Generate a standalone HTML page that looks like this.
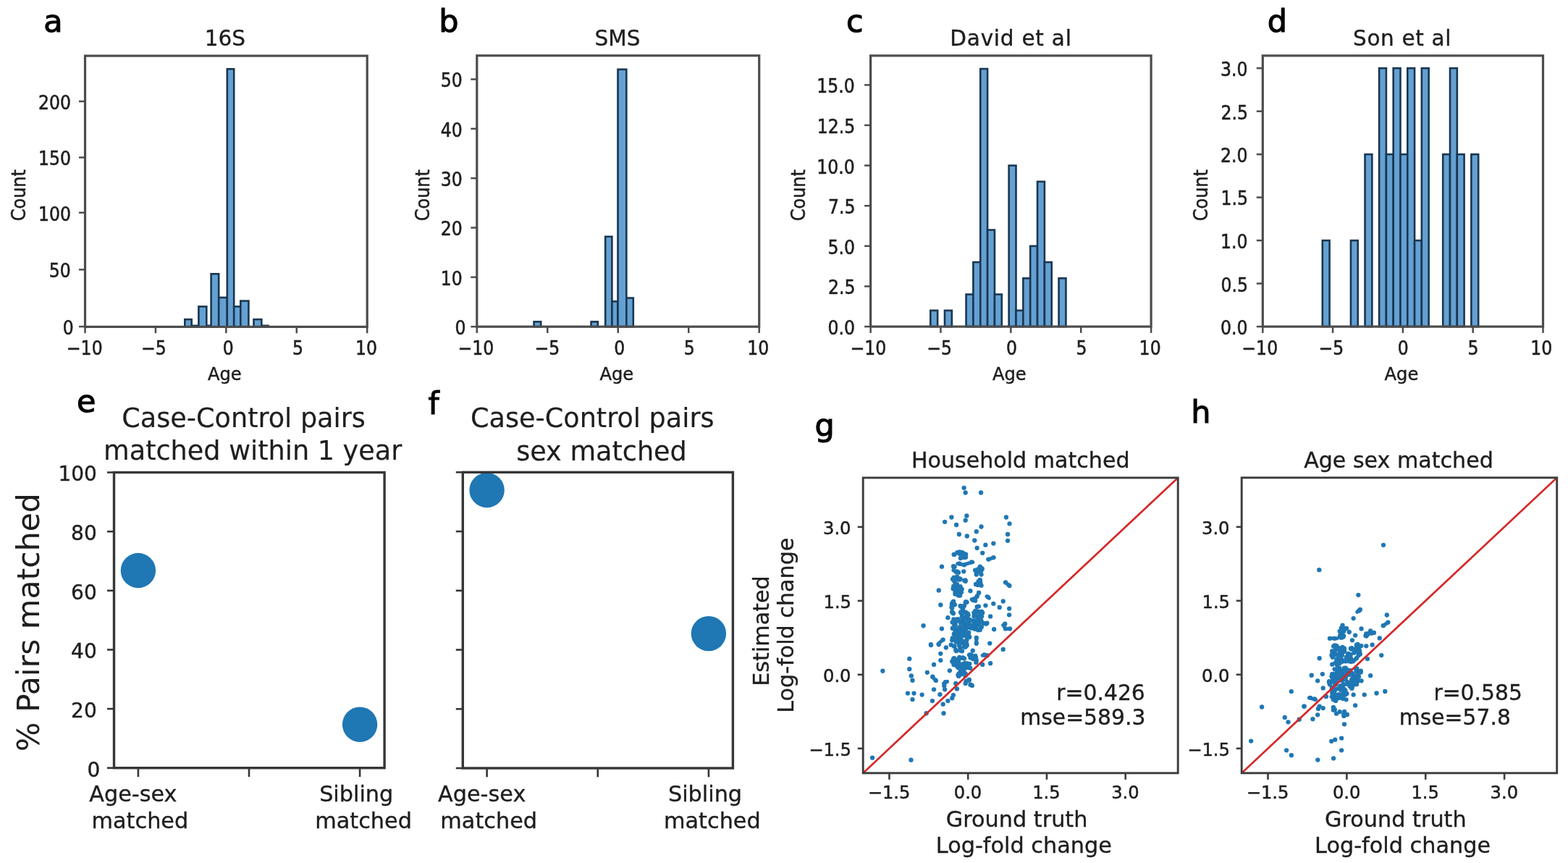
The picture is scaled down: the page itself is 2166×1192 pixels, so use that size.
<!DOCTYPE html>
<html><head><meta charset="utf-8"><title>Figure</title>
<style>html,body{margin:0;padding:0;background:#fff;width:2166px;height:1192px;overflow:hidden}svg{display:block}</style>
</head><body>
<svg width="2166" height="1192" viewBox="0 0 2166 1192" font-family="'DejaVu Sans','Liberation Sans',sans-serif"><rect width="2166" height="1192" fill="#fff"/><rect x="255.3" y="441.14" width="9.4" height="10.26" fill="#64a1d2" stroke="#1a3651" stroke-width="2.6"/>
<rect x="264.7" y="449.84" width="9.7" height="1.56" fill="#64a1d2" stroke="#1a3651" stroke-width="2.6"/>
<rect x="274.4" y="423.41" width="10.9" height="27.99" fill="#64a1d2" stroke="#1a3651" stroke-width="2.6"/>
<rect x="285.3" y="449.84" width="6.3" height="1.56" fill="#64a1d2" stroke="#1a3651" stroke-width="2.6"/>
<rect x="291.6" y="378.31" width="10.6" height="73.08" fill="#64a1d2" stroke="#1a3651" stroke-width="2.6"/>
<rect x="302.2" y="410.97" width="11.6" height="40.43" fill="#64a1d2" stroke="#1a3651" stroke-width="2.6"/>
<rect x="313.8" y="95.31" width="9.4" height="356.09" fill="#64a1d2" stroke="#1a3651" stroke-width="2.6"/>
<rect x="323.2" y="423.41" width="9.1" height="27.99" fill="#64a1d2" stroke="#1a3651" stroke-width="2.6"/>
<rect x="332.3" y="415.63" width="11.1" height="35.76" fill="#64a1d2" stroke="#1a3651" stroke-width="2.6"/>
<rect x="350.5" y="441.14" width="10.8" height="10.26" fill="#64a1d2" stroke="#1a3651" stroke-width="2.6"/>
<rect x="361.3" y="449.84" width="9.2" height="1.56" fill="#64a1d2" stroke="#1a3651" stroke-width="2.6"/>
<rect x="117.5" y="77.1" width="389.7" height="374.3" fill="none" stroke="#4c4c4c" stroke-width="3.2" stroke-linejoin="miter" stroke-linecap="square"/>
<line x1="117.5" y1="451.4" x2="117.5" y2="460.2" stroke="#4c4c4c" stroke-width="2.5"/>
<text transform="translate(91.85,489.8) scale(1,1.12)" font-size="23.6" stroke-width="0.51" fill="#1e1e1e" stroke="#1e1e1e">−10</text>
<line x1="214.93" y1="451.4" x2="214.93" y2="460.2" stroke="#4c4c4c" stroke-width="2.5"/>
<text transform="translate(195.02,489.8) scale(1,1.12)" font-size="23.6" stroke-width="0.51" fill="#1e1e1e" stroke="#1e1e1e">−5</text>
<line x1="312.35" y1="451.4" x2="312.35" y2="460.2" stroke="#4c4c4c" stroke-width="2.5"/>
<text transform="translate(307.67,489.8) scale(1,1.12)" font-size="23.6" stroke-width="0.51" fill="#1e1e1e" stroke="#1e1e1e">0</text>
<line x1="409.77" y1="451.4" x2="409.77" y2="460.2" stroke="#4c4c4c" stroke-width="2.5"/>
<text transform="translate(404.07,489.8) scale(1,1.12)" font-size="23.6" stroke-width="0.51" fill="#1e1e1e" stroke="#1e1e1e">5</text>
<line x1="507.2" y1="451.4" x2="507.2" y2="460.2" stroke="#4c4c4c" stroke-width="2.5"/>
<text transform="translate(490.92,489.8) scale(1,1.12)" font-size="23.6" stroke-width="0.51" fill="#1e1e1e" stroke="#1e1e1e">10</text>
<line x1="109" y1="451.1" x2="117.5" y2="451.1" stroke="#4c4c4c" stroke-width="2.5"/>
<text transform="translate(86.75,462.01) scale(1,1.1)" font-size="23.6" stroke-width="0.51" fill="#1e1e1e" stroke="#1e1e1e">0</text>
<line x1="109" y1="372.4" x2="117.5" y2="372.4" stroke="#4c4c4c" stroke-width="2.5"/>
<text transform="translate(67.74,383.31) scale(1,1.1)" font-size="23.6" stroke-width="0.51" fill="#1e1e1e" stroke="#1e1e1e">50</text>
<line x1="109" y1="293.7" x2="117.5" y2="293.7" stroke="#4c4c4c" stroke-width="2.5"/>
<text transform="translate(52.88,304.61) scale(1,1.1)" font-size="23.6" stroke-width="0.51" fill="#1e1e1e" stroke="#1e1e1e">100</text>
<line x1="109" y1="217.5" x2="117.5" y2="217.5" stroke="#4c4c4c" stroke-width="2.5"/>
<text transform="translate(52.88,228.41) scale(1,1.1)" font-size="23.6" stroke-width="0.51" fill="#1e1e1e" stroke="#1e1e1e">150</text>
<line x1="109" y1="140" x2="117.5" y2="140" stroke="#4c4c4c" stroke-width="2.5"/>
<text transform="translate(52.88,150.91) scale(1,1.1)" font-size="23.6" stroke-width="0.51" fill="#1e1e1e" stroke="#1e1e1e">200</text>
<text x="286.98" y="524.5" font-size="24.2" stroke-width="0.49" fill="#1e1e1e" stroke="#1e1e1e">Age</text>
<text transform="translate(35.3,305.3) rotate(-90) scale(1,1.07)" font-size="24.0" stroke-width="0.50" fill="#1e1e1e" stroke="#1e1e1e">Count</text>
<text x="282.84" y="62.6" font-size="29.5" stroke-width="0.36" fill="#1e1e1e" stroke="#1e1e1e">16S</text>
<rect x="737.6" y="444.37" width="9.6" height="6.83" fill="#64a1d2" stroke="#1a3651" stroke-width="2.6"/>
<rect x="816.6" y="444.37" width="9.2" height="6.83" fill="#64a1d2" stroke="#1a3651" stroke-width="2.6"/>
<rect x="836.2" y="326.82" width="9.2" height="124.38" fill="#64a1d2" stroke="#1a3651" stroke-width="2.6"/>
<rect x="845.4" y="416.35" width="8.1" height="34.85" fill="#64a1d2" stroke="#1a3651" stroke-width="2.6"/>
<rect x="853.5" y="95.83" width="11.8" height="355.37" fill="#64a1d2" stroke="#1a3651" stroke-width="2.6"/>
<rect x="865.3" y="411.56" width="9.5" height="39.64" fill="#64a1d2" stroke="#1a3651" stroke-width="2.6"/>
<rect x="658.8" y="76.8" width="389.9" height="374.4" fill="none" stroke="#4c4c4c" stroke-width="3.2" stroke-linejoin="miter" stroke-linecap="square"/>
<line x1="658.8" y1="451.2" x2="658.8" y2="460" stroke="#4c4c4c" stroke-width="2.5"/>
<text transform="translate(632.45,489.8) scale(1,1.12)" font-size="23.6" stroke-width="0.51" fill="#1e1e1e" stroke="#1e1e1e">−10</text>
<line x1="756.27" y1="451.2" x2="756.27" y2="460" stroke="#4c4c4c" stroke-width="2.5"/>
<text transform="translate(738.52,489.8) scale(1,1.12)" font-size="23.6" stroke-width="0.51" fill="#1e1e1e" stroke="#1e1e1e">−5</text>
<line x1="853.75" y1="451.2" x2="853.75" y2="460" stroke="#4c4c4c" stroke-width="2.5"/>
<text transform="translate(848.37,489.8) scale(1,1.12)" font-size="23.6" stroke-width="0.51" fill="#1e1e1e" stroke="#1e1e1e">0</text>
<line x1="951.23" y1="451.2" x2="951.23" y2="460" stroke="#4c4c4c" stroke-width="2.5"/>
<text transform="translate(944.77,489.8) scale(1,1.12)" font-size="23.6" stroke-width="0.51" fill="#1e1e1e" stroke="#1e1e1e">5</text>
<line x1="1048.7" y1="451.2" x2="1048.7" y2="460" stroke="#4c4c4c" stroke-width="2.5"/>
<text transform="translate(1032.22,489.8) scale(1,1.12)" font-size="23.6" stroke-width="0.51" fill="#1e1e1e" stroke="#1e1e1e">10</text>
<line x1="650.3" y1="451.2" x2="658.8" y2="451.2" stroke="#4c4c4c" stroke-width="2.5"/>
<text transform="translate(628.55,462.11) scale(1,1.1)" font-size="23.6" stroke-width="0.51" fill="#1e1e1e" stroke="#1e1e1e">0</text>
<line x1="650.3" y1="382.86" x2="658.8" y2="382.86" stroke="#4c4c4c" stroke-width="2.5"/>
<text transform="translate(608.74,393.77) scale(1,1.1)" font-size="23.6" stroke-width="0.51" fill="#1e1e1e" stroke="#1e1e1e">10</text>
<line x1="650.3" y1="314.52" x2="658.8" y2="314.52" stroke="#4c4c4c" stroke-width="2.5"/>
<text transform="translate(608.74,325.43) scale(1,1.1)" font-size="23.6" stroke-width="0.51" fill="#1e1e1e" stroke="#1e1e1e">20</text>
<line x1="650.3" y1="246.18" x2="658.8" y2="246.18" stroke="#4c4c4c" stroke-width="2.5"/>
<text transform="translate(608.74,257.09) scale(1,1.1)" font-size="23.6" stroke-width="0.51" fill="#1e1e1e" stroke="#1e1e1e">30</text>
<line x1="650.3" y1="177.84" x2="658.8" y2="177.84" stroke="#4c4c4c" stroke-width="2.5"/>
<text transform="translate(608.74,188.75) scale(1,1.1)" font-size="23.6" stroke-width="0.51" fill="#1e1e1e" stroke="#1e1e1e">40</text>
<line x1="650.3" y1="109.5" x2="658.8" y2="109.5" stroke="#4c4c4c" stroke-width="2.5"/>
<text transform="translate(608.74,120.41) scale(1,1.1)" font-size="23.6" stroke-width="0.51" fill="#1e1e1e" stroke="#1e1e1e">50</text>
<text x="828.38" y="524.5" font-size="24.2" stroke-width="0.49" fill="#1e1e1e" stroke="#1e1e1e">Age</text>
<text transform="translate(593,305.3) rotate(-90) scale(1,1.07)" font-size="24.0" stroke-width="0.50" fill="#1e1e1e" stroke="#1e1e1e">Count</text>
<text x="821.58" y="62.6" font-size="29.5" stroke-width="0.36" fill="#1e1e1e" stroke="#1e1e1e">SMS</text>
<rect x="1285.3" y="428.85" width="9.85" height="22.25" fill="#64a1d2" stroke="#1a3651" stroke-width="2.6"/>
<rect x="1305" y="428.85" width="9.85" height="22.25" fill="#64a1d2" stroke="#1a3651" stroke-width="2.6"/>
<rect x="1334.55" y="406.6" width="9.85" height="44.5" fill="#64a1d2" stroke="#1a3651" stroke-width="2.6"/>
<rect x="1344.4" y="362.1" width="9.85" height="89" fill="#64a1d2" stroke="#1a3651" stroke-width="2.6"/>
<rect x="1354.25" y="95.1" width="9.85" height="356" fill="#64a1d2" stroke="#1a3651" stroke-width="2.6"/>
<rect x="1364.1" y="317.6" width="9.85" height="133.5" fill="#64a1d2" stroke="#1a3651" stroke-width="2.6"/>
<rect x="1373.95" y="406.6" width="9.85" height="44.5" fill="#64a1d2" stroke="#1a3651" stroke-width="2.6"/>
<rect x="1393.65" y="228.6" width="9.85" height="222.5" fill="#64a1d2" stroke="#1a3651" stroke-width="2.6"/>
<rect x="1403.5" y="428.85" width="9.85" height="22.25" fill="#64a1d2" stroke="#1a3651" stroke-width="2.6"/>
<rect x="1413.35" y="384.35" width="9.85" height="66.75" fill="#64a1d2" stroke="#1a3651" stroke-width="2.6"/>
<rect x="1423.2" y="339.85" width="9.85" height="111.25" fill="#64a1d2" stroke="#1a3651" stroke-width="2.6"/>
<rect x="1433.05" y="250.85" width="9.85" height="200.25" fill="#64a1d2" stroke="#1a3651" stroke-width="2.6"/>
<rect x="1442.9" y="362.1" width="9.85" height="89" fill="#64a1d2" stroke="#1a3651" stroke-width="2.6"/>
<rect x="1462.6" y="384.35" width="9.85" height="66.75" fill="#64a1d2" stroke="#1a3651" stroke-width="2.6"/>
<rect x="1202.6" y="76.9" width="387.5" height="374.2" fill="none" stroke="#4c4c4c" stroke-width="3.2" stroke-linejoin="miter" stroke-linecap="square"/>
<line x1="1202.6" y1="451.1" x2="1202.6" y2="459.9" stroke="#4c4c4c" stroke-width="2.5"/>
<text transform="translate(1174.55,489.8) scale(1,1.12)" font-size="23.6" stroke-width="0.51" fill="#1e1e1e" stroke="#1e1e1e">−10</text>
<line x1="1299.47" y1="451.1" x2="1299.47" y2="459.9" stroke="#4c4c4c" stroke-width="2.5"/>
<text transform="translate(1280.32,489.8) scale(1,1.12)" font-size="23.6" stroke-width="0.51" fill="#1e1e1e" stroke="#1e1e1e">−5</text>
<line x1="1396.35" y1="451.1" x2="1396.35" y2="459.9" stroke="#4c4c4c" stroke-width="2.5"/>
<text transform="translate(1389.97,489.8) scale(1,1.12)" font-size="23.6" stroke-width="0.51" fill="#1e1e1e" stroke="#1e1e1e">0</text>
<line x1="1493.22" y1="451.1" x2="1493.22" y2="459.9" stroke="#4c4c4c" stroke-width="2.5"/>
<text transform="translate(1486.47,489.8) scale(1,1.12)" font-size="23.6" stroke-width="0.51" fill="#1e1e1e" stroke="#1e1e1e">5</text>
<line x1="1590.1" y1="451.1" x2="1590.1" y2="459.9" stroke="#4c4c4c" stroke-width="2.5"/>
<text transform="translate(1573.62,489.8) scale(1,1.12)" font-size="23.6" stroke-width="0.51" fill="#1e1e1e" stroke="#1e1e1e">10</text>
<line x1="1194.1" y1="451.1" x2="1202.6" y2="451.1" stroke="#4c4c4c" stroke-width="2.5"/>
<text transform="translate(1143.43,462.01) scale(1,1.1)" font-size="23.6" stroke-width="0.51" fill="#1e1e1e" stroke="#1e1e1e">0.0</text>
<line x1="1194.1" y1="395.48" x2="1202.6" y2="395.48" stroke="#4c4c4c" stroke-width="2.5"/>
<text transform="translate(1143.9,406.38) scale(1,1.1)" font-size="23.6" stroke-width="0.51" fill="#1e1e1e" stroke="#1e1e1e">2.5</text>
<line x1="1194.1" y1="339.85" x2="1202.6" y2="339.85" stroke="#4c4c4c" stroke-width="2.5"/>
<text transform="translate(1143.43,350.76) scale(1,1.1)" font-size="23.6" stroke-width="0.51" fill="#1e1e1e" stroke="#1e1e1e">5.0</text>
<line x1="1194.1" y1="284.23" x2="1202.6" y2="284.23" stroke="#4c4c4c" stroke-width="2.5"/>
<text transform="translate(1143.9,294.87) scale(1,1.1)" font-size="23.6" stroke-width="0.51" fill="#1e1e1e" stroke="#1e1e1e">7.5</text>
<line x1="1194.1" y1="228.6" x2="1202.6" y2="228.6" stroke="#4c4c4c" stroke-width="2.5"/>
<text transform="translate(1128.32,239.51) scale(1,1.1)" font-size="23.6" stroke-width="0.51" fill="#1e1e1e" stroke="#1e1e1e">10.0</text>
<line x1="1194.1" y1="172.98" x2="1202.6" y2="172.98" stroke="#4c4c4c" stroke-width="2.5"/>
<text transform="translate(1128.8,183.88) scale(1,1.1)" font-size="23.6" stroke-width="0.51" fill="#1e1e1e" stroke="#1e1e1e">12.5</text>
<line x1="1194.1" y1="117.35" x2="1202.6" y2="117.35" stroke="#4c4c4c" stroke-width="2.5"/>
<text transform="translate(1128.32,128.26) scale(1,1.1)" font-size="23.6" stroke-width="0.51" fill="#1e1e1e" stroke="#1e1e1e">15.0</text>
<text x="1370.98" y="524.5" font-size="24.2" stroke-width="0.49" fill="#1e1e1e" stroke="#1e1e1e">Age</text>
<text transform="translate(1112,305.3) rotate(-90) scale(1,1.07)" font-size="24.0" stroke-width="0.50" fill="#1e1e1e" stroke="#1e1e1e">Count</text>
<text x="1312.35" y="62.6" font-size="29.5" stroke-width="0.36" fill="#1e1e1e" stroke="#1e1e1e" textLength="167.53" lengthAdjust="spacing">David et al</text>
<rect x="1826.8" y="332.13" width="9.79" height="118.97" fill="#64a1d2" stroke="#1a3651" stroke-width="2.6"/>
<rect x="1865.96" y="332.13" width="9.79" height="118.97" fill="#64a1d2" stroke="#1a3651" stroke-width="2.6"/>
<rect x="1885.54" y="213.16" width="9.79" height="237.94" fill="#64a1d2" stroke="#1a3651" stroke-width="2.6"/>
<rect x="1905.12" y="94.19" width="9.79" height="356.91" fill="#64a1d2" stroke="#1a3651" stroke-width="2.6"/>
<rect x="1914.91" y="213.16" width="9.79" height="237.94" fill="#64a1d2" stroke="#1a3651" stroke-width="2.6"/>
<rect x="1924.7" y="94.19" width="9.79" height="356.91" fill="#64a1d2" stroke="#1a3651" stroke-width="2.6"/>
<rect x="1934.49" y="213.16" width="9.79" height="237.94" fill="#64a1d2" stroke="#1a3651" stroke-width="2.6"/>
<rect x="1944.28" y="94.19" width="9.79" height="356.91" fill="#64a1d2" stroke="#1a3651" stroke-width="2.6"/>
<rect x="1954.07" y="332.13" width="9.79" height="118.97" fill="#64a1d2" stroke="#1a3651" stroke-width="2.6"/>
<rect x="1963.86" y="94.19" width="9.79" height="356.91" fill="#64a1d2" stroke="#1a3651" stroke-width="2.6"/>
<rect x="1993.23" y="213.16" width="9.79" height="237.94" fill="#64a1d2" stroke="#1a3651" stroke-width="2.6"/>
<rect x="2003.02" y="94.19" width="9.79" height="356.91" fill="#64a1d2" stroke="#1a3651" stroke-width="2.6"/>
<rect x="2012.81" y="213.16" width="9.79" height="237.94" fill="#64a1d2" stroke="#1a3651" stroke-width="2.6"/>
<rect x="2032.39" y="213.16" width="9.79" height="237.94" fill="#64a1d2" stroke="#1a3651" stroke-width="2.6"/>
<rect x="1744.3" y="76.9" width="387.2" height="374.2" fill="none" stroke="#4c4c4c" stroke-width="3.2" stroke-linejoin="miter" stroke-linecap="square"/>
<line x1="1744.3" y1="451.1" x2="1744.3" y2="459.9" stroke="#4c4c4c" stroke-width="2.5"/>
<text transform="translate(1715.35,489.8) scale(1,1.12)" font-size="23.6" stroke-width="0.51" fill="#1e1e1e" stroke="#1e1e1e">−10</text>
<line x1="1841.1" y1="451.1" x2="1841.1" y2="459.9" stroke="#4c4c4c" stroke-width="2.5"/>
<text transform="translate(1821.42,489.8) scale(1,1.12)" font-size="23.6" stroke-width="0.51" fill="#1e1e1e" stroke="#1e1e1e">−5</text>
<line x1="1937.9" y1="451.1" x2="1937.9" y2="459.9" stroke="#4c4c4c" stroke-width="2.5"/>
<text transform="translate(1930.87,489.8) scale(1,1.12)" font-size="23.6" stroke-width="0.51" fill="#1e1e1e" stroke="#1e1e1e">0</text>
<line x1="2034.7" y1="451.1" x2="2034.7" y2="459.9" stroke="#4c4c4c" stroke-width="2.5"/>
<text transform="translate(2027.57,489.8) scale(1,1.12)" font-size="23.6" stroke-width="0.51" fill="#1e1e1e" stroke="#1e1e1e">5</text>
<line x1="2131.5" y1="451.1" x2="2131.5" y2="459.9" stroke="#4c4c4c" stroke-width="2.5"/>
<text transform="translate(2114.32,489.8) scale(1,1.12)" font-size="23.6" stroke-width="0.51" fill="#1e1e1e" stroke="#1e1e1e">10</text>
<line x1="1735.8" y1="451.1" x2="1744.3" y2="451.1" stroke="#4c4c4c" stroke-width="2.5"/>
<text transform="translate(1685.93,462.01) scale(1,1.1)" font-size="23.6" stroke-width="0.51" fill="#1e1e1e" stroke="#1e1e1e">0.0</text>
<line x1="1735.8" y1="391.62" x2="1744.3" y2="391.62" stroke="#4c4c4c" stroke-width="2.5"/>
<text transform="translate(1686.4,402.52) scale(1,1.1)" font-size="23.6" stroke-width="0.51" fill="#1e1e1e" stroke="#1e1e1e">0.5</text>
<line x1="1735.8" y1="332.13" x2="1744.3" y2="332.13" stroke="#4c4c4c" stroke-width="2.5"/>
<text transform="translate(1685.93,343.04) scale(1,1.1)" font-size="23.6" stroke-width="0.51" fill="#1e1e1e" stroke="#1e1e1e">1.0</text>
<line x1="1735.8" y1="272.65" x2="1744.3" y2="272.65" stroke="#4c4c4c" stroke-width="2.5"/>
<text transform="translate(1686.4,283.29) scale(1,1.1)" font-size="23.6" stroke-width="0.51" fill="#1e1e1e" stroke="#1e1e1e">1.5</text>
<line x1="1735.8" y1="213.16" x2="1744.3" y2="213.16" stroke="#4c4c4c" stroke-width="2.5"/>
<text transform="translate(1685.93,224.07) scale(1,1.1)" font-size="23.6" stroke-width="0.51" fill="#1e1e1e" stroke="#1e1e1e">2.0</text>
<line x1="1735.8" y1="153.68" x2="1744.3" y2="153.68" stroke="#4c4c4c" stroke-width="2.5"/>
<text transform="translate(1686.4,164.58) scale(1,1.1)" font-size="23.6" stroke-width="0.51" fill="#1e1e1e" stroke="#1e1e1e">2.5</text>
<line x1="1735.8" y1="94.19" x2="1744.3" y2="94.19" stroke="#4c4c4c" stroke-width="2.5"/>
<text transform="translate(1685.93,105.1) scale(1,1.1)" font-size="23.6" stroke-width="0.51" fill="#1e1e1e" stroke="#1e1e1e">3.0</text>
<text x="1912.53" y="524.5" font-size="24.2" stroke-width="0.49" fill="#1e1e1e" stroke="#1e1e1e">Age</text>
<text transform="translate(1668,305.3) rotate(-90) scale(1,1.07)" font-size="24.0" stroke-width="0.50" fill="#1e1e1e" stroke="#1e1e1e">Count</text>
<text x="1869.03" y="62.6" font-size="29.5" stroke-width="0.36" fill="#1e1e1e" stroke="#1e1e1e" textLength="135.45" lengthAdjust="spacing">Son et al</text>
<clipPath id="clipe"><rect x="157.5" y="652.5" width="373.6" height="408.2"/></clipPath>
<circle cx="190.9" cy="788" r="24.2" fill="#1f77b4" clip-path="url(#clipe)"/>
<circle cx="497.1" cy="1000.7" r="24.2" fill="#1f77b4" clip-path="url(#clipe)"/>
<rect x="157.5" y="652.5" width="373.6" height="408.2" fill="none" stroke="#363636" stroke-width="3.4" stroke-linejoin="miter" stroke-linecap="square"/>
<line x1="148" y1="1060.7" x2="157.5" y2="1060.7" stroke="#363636" stroke-width="2.6"/>
<text x="120.54" y="1072.56" font-size="28.0" stroke-width="0.40" fill="#1e1e1e" stroke="#1e1e1e">0</text>
<line x1="148" y1="979.06" x2="157.5" y2="979.06" stroke="#363636" stroke-width="2.6"/>
<text x="98.12" y="990.92" font-size="28.0" stroke-width="0.40" fill="#1e1e1e" stroke="#1e1e1e">20</text>
<line x1="148" y1="897.42" x2="157.5" y2="897.42" stroke="#363636" stroke-width="2.6"/>
<text x="98.12" y="909.28" font-size="28.0" stroke-width="0.40" fill="#1e1e1e" stroke="#1e1e1e">40</text>
<line x1="148" y1="815.78" x2="157.5" y2="815.78" stroke="#363636" stroke-width="2.6"/>
<text x="98.12" y="827.64" font-size="28.0" stroke-width="0.40" fill="#1e1e1e" stroke="#1e1e1e">60</text>
<line x1="148" y1="734.14" x2="157.5" y2="734.14" stroke="#363636" stroke-width="2.6"/>
<text x="98.12" y="746" font-size="28.0" stroke-width="0.40" fill="#1e1e1e" stroke="#1e1e1e">80</text>
<line x1="148" y1="652.5" x2="157.5" y2="652.5" stroke="#363636" stroke-width="2.6"/>
<text x="80.48" y="664.36" font-size="28.0" stroke-width="0.40" fill="#1e1e1e" stroke="#1e1e1e">100</text>
<line x1="190.9" y1="1060.7" x2="190.9" y2="1073" stroke="#363636" stroke-width="2.6"/>
<line x1="344" y1="1060.7" x2="344" y2="1073" stroke="#363636" stroke-width="2.6"/>
<line x1="497.1" y1="1060.7" x2="497.1" y2="1073" stroke="#363636" stroke-width="2.6"/>
<text x="168.34" y="589.6" font-size="36.6" stroke-width="0.18" fill="#1e1e1e" stroke="#1e1e1e">Case-Control pairs</text>
<text x="143.11" y="635.3" font-size="36.6" stroke-width="0.18" fill="#1e1e1e" stroke="#1e1e1e">matched within 1 year</text>
<text x="123.2" y="1106.6" font-size="30.3" stroke-width="0.34" fill="#1e1e1e" stroke="#1e1e1e">Age-sex</text>
<text x="126.54" y="1143.5" font-size="30.3" stroke-width="0.34" fill="#1e1e1e" stroke="#1e1e1e">matched</text>
<text x="441.15" y="1106.6" font-size="30.3" stroke-width="0.34" fill="#1e1e1e" stroke="#1e1e1e">Sibling</text>
<text x="435.24" y="1143.5" font-size="30.3" stroke-width="0.34" fill="#1e1e1e" stroke="#1e1e1e">matched</text>
<clipPath id="clipf"><rect x="639.3" y="652.3" width="373.1" height="408.7"/></clipPath>
<circle cx="672.6" cy="677" r="24.2" fill="#1f77b4" clip-path="url(#clipf)"/>
<circle cx="978.9" cy="875.1" r="24.2" fill="#1f77b4" clip-path="url(#clipf)"/>
<rect x="639.3" y="652.3" width="373.1" height="408.7" fill="none" stroke="#363636" stroke-width="3.4" stroke-linejoin="miter" stroke-linecap="square"/>
<line x1="629.8" y1="1061" x2="639.3" y2="1061" stroke="#363636" stroke-width="2.6"/>
<line x1="629.8" y1="979.26" x2="639.3" y2="979.26" stroke="#363636" stroke-width="2.6"/>
<line x1="629.8" y1="897.52" x2="639.3" y2="897.52" stroke="#363636" stroke-width="2.6"/>
<line x1="629.8" y1="815.78" x2="639.3" y2="815.78" stroke="#363636" stroke-width="2.6"/>
<line x1="629.8" y1="734.04" x2="639.3" y2="734.04" stroke="#363636" stroke-width="2.6"/>
<line x1="629.8" y1="652.3" x2="639.3" y2="652.3" stroke="#363636" stroke-width="2.6"/>
<line x1="672.6" y1="1061" x2="672.6" y2="1073.3" stroke="#363636" stroke-width="2.6"/>
<line x1="825.75" y1="1061" x2="825.75" y2="1073.3" stroke="#363636" stroke-width="2.6"/>
<line x1="978.9" y1="1061" x2="978.9" y2="1073.3" stroke="#363636" stroke-width="2.6"/>
<text x="650.04" y="589.8" font-size="36.6" stroke-width="0.18" fill="#1e1e1e" stroke="#1e1e1e">Case-Control pairs</text>
<text x="713.2" y="635.5" font-size="36.6" stroke-width="0.18" fill="#1e1e1e" stroke="#1e1e1e">sex matched</text>
<text x="605" y="1106.6" font-size="30.3" stroke-width="0.34" fill="#1e1e1e" stroke="#1e1e1e">Age-sex</text>
<text x="608.34" y="1143.5" font-size="30.3" stroke-width="0.34" fill="#1e1e1e" stroke="#1e1e1e">matched</text>
<text x="922.95" y="1106.6" font-size="30.3" stroke-width="0.34" fill="#1e1e1e" stroke="#1e1e1e">Sibling</text>
<text x="917.04" y="1143.5" font-size="30.3" stroke-width="0.34" fill="#1e1e1e" stroke="#1e1e1e">matched</text>
<text transform="translate(53.6,1038.04) rotate(-90)" font-size="42.6" stroke-width="0.03" fill="#1e1e1e" stroke="#1e1e1e">% Pairs matched</text>
<clipPath id="clipg"><rect x="1192.2" y="659.9" width="435" height="407.9"/></clipPath>
<g fill="#1f77b4"><g clip-path="url(#clipg)"><circle cx="1331.61" cy="673.81" r="3.15"/><circle cx="1333.7" cy="680.52" r="3.15"/><circle cx="1355.1" cy="680.52" r="3.15"/><circle cx="1314.4" cy="714.51" r="3.15"/><circle cx="1305.17" cy="720.8" r="3.15"/><circle cx="1321.12" cy="725" r="3.15"/><circle cx="1335.38" cy="712.41" r="3.15"/><circle cx="1333.7" cy="718.7" r="3.15"/><circle cx="1355.52" cy="727.52" r="3.15"/><circle cx="1348.81" cy="734.23" r="3.15"/><circle cx="1324.89" cy="738" r="3.15"/><circle cx="1335.8" cy="740.52" r="3.15"/><circle cx="1346.29" cy="746.4" r="3.15"/><circle cx="1361.4" cy="752.69" r="3.15"/><circle cx="1372.31" cy="750.59" r="3.15"/><circle cx="1349.65" cy="756.89" r="3.15"/><circle cx="1389.93" cy="714.51" r="3.15"/><circle cx="1394.54" cy="723.32" r="3.15"/><circle cx="1392.02" cy="738" r="3.15"/><circle cx="1392.02" cy="746.82" r="3.15"/><circle cx="1318.6" cy="765.87" r="3.15"/><circle cx="1325.31" cy="764.2" r="3.15"/><circle cx="1330.35" cy="766.71" r="3.15"/><circle cx="1326.99" cy="770.91" r="3.15"/><circle cx="1332.03" cy="770.07" r="3.15"/><circle cx="1357.2" cy="763.78" r="3.15"/><circle cx="1365.59" cy="772.59" r="3.15"/><circle cx="1372.31" cy="770.07" r="3.15"/><circle cx="1300.98" cy="782.66" r="3.15"/><circle cx="1325.31" cy="778.46" r="3.15"/><circle cx="1332.03" cy="780.14" r="3.15"/><circle cx="1342.1" cy="776.36" r="3.15"/><circle cx="1318.6" cy="782.66" r="3.15"/><circle cx="1321.96" cy="789.37" r="3.15"/><circle cx="1331.19" cy="789.37" r="3.15"/><circle cx="1353.84" cy="782.66" r="3.15"/><circle cx="1349.65" cy="787.69" r="3.15"/><circle cx="1355.52" cy="787.69" r="3.15"/><circle cx="1348.81" cy="793.57" r="3.15"/><circle cx="1355.52" cy="793.57" r="3.15"/><circle cx="1317.76" cy="797.76" r="3.15"/><circle cx="1325.31" cy="799.44" r="3.15"/><circle cx="1333.7" cy="802.8" r="3.15"/><circle cx="1321.96" cy="806.99" r="3.15"/><circle cx="1319.44" cy="814.54" r="3.15"/><circle cx="1328.67" cy="813.7" r="3.15"/><circle cx="1319.44" cy="820.42" r="3.15"/><circle cx="1325.31" cy="822.1" r="3.15"/><circle cx="1353.84" cy="801.96" r="3.15"/><circle cx="1347.97" cy="806.99" r="3.15"/><circle cx="1355.52" cy="808.67" r="3.15"/><circle cx="1296.78" cy="815.38" r="3.15"/><circle cx="1340.42" cy="816.22" r="3.15"/><circle cx="1352.17" cy="818.74" r="3.15"/><circle cx="1349.65" cy="823.77" r="3.15"/><circle cx="1343.77" cy="828.81" r="3.15"/><circle cx="1347.13" cy="829.65" r="3.15"/><circle cx="1364.75" cy="824.61" r="3.15"/><circle cx="1389.09" cy="804.47" r="3.15"/><circle cx="1394.12" cy="808.67" r="3.15"/><circle cx="1385.73" cy="830.49" r="3.15"/><circle cx="1299.3" cy="835.52" r="3.15"/><circle cx="1316.08" cy="832.17" r="3.15"/><circle cx="1315.24" cy="839.72" r="3.15"/><circle cx="1316.92" cy="847.27" r="3.15"/><circle cx="1333.7" cy="832.17" r="3.15"/><circle cx="1327.83" cy="837.2" r="3.15"/><circle cx="1330.35" cy="843.91" r="3.15"/><circle cx="1335.38" cy="848.95" r="3.15"/><circle cx="1349.65" cy="838.04" r="3.15"/><circle cx="1345.45" cy="846.43" r="3.15"/><circle cx="1351.33" cy="844.75" r="3.15"/><circle cx="1357.2" cy="846.43" r="3.15"/><circle cx="1353.84" cy="852.31" r="3.15"/><circle cx="1361.4" cy="836.36" r="3.15"/><circle cx="1372.31" cy="833.84" r="3.15"/><circle cx="1380.7" cy="838.88" r="3.15"/><circle cx="1394.12" cy="840.56" r="3.15"/><circle cx="1394.12" cy="849.37" r="3.15"/><circle cx="1368.11" cy="851.47" r="3.15"/><circle cx="1309.37" cy="853.14" r="3.15"/><circle cx="1317.76" cy="860.03" r="3.15"/><circle cx="1316.08" cy="867.59" r="3.15"/><circle cx="1326.99" cy="858.36" r="3.15"/><circle cx="1332.03" cy="863.39" r="3.15"/><circle cx="1338.74" cy="860.03" r="3.15"/><circle cx="1341.26" cy="867.59" r="3.15"/><circle cx="1347.13" cy="857.52" r="3.15"/><circle cx="1351.33" cy="863.39" r="3.15"/><circle cx="1353.84" cy="870.1" r="3.15"/><circle cx="1362.24" cy="861.71" r="3.15"/><circle cx="1355.52" cy="857.52" r="3.15"/><circle cx="1373.14" cy="869.27" r="3.15"/><circle cx="1388.25" cy="861.71" r="3.15"/><circle cx="1389.09" cy="868.43" r="3.15"/><circle cx="1394.96" cy="868.43" r="3.15"/><circle cx="1300.98" cy="868.43" r="3.15"/><circle cx="1320.28" cy="875.98" r="3.15"/><circle cx="1326.99" cy="874.3" r="3.15"/><circle cx="1334.54" cy="878.5" r="3.15"/><circle cx="1338.74" cy="880.17" r="3.15"/><circle cx="1315.24" cy="884.37" r="3.15"/><circle cx="1321.96" cy="882.69" r="3.15"/><circle cx="1326.99" cy="886.89" r="3.15"/><circle cx="1333.7" cy="888.57" r="3.15"/><circle cx="1318.6" cy="892.76" r="3.15"/><circle cx="1325.31" cy="891.92" r="3.15"/><circle cx="1332.03" cy="893.6" r="3.15"/><circle cx="1320.28" cy="897.8" r="3.15"/><circle cx="1326.99" cy="898.64" r="3.15"/><circle cx="1348.81" cy="881.01" r="3.15"/><circle cx="1348.81" cy="888.57" r="3.15"/><circle cx="1302.66" cy="883.53" r="3.15"/><circle cx="1296.78" cy="890.24" r="3.15"/><circle cx="1285.87" cy="890.24" r="3.15"/><circle cx="1306.85" cy="894.44" r="3.15"/><circle cx="1367.27" cy="888.57" r="3.15"/><circle cx="1385.73" cy="896.96" r="3.15"/><circle cx="1343.77" cy="898.64" r="3.15"/><circle cx="1340.42" cy="904.51" r="3.15"/><circle cx="1345.45" cy="908.7" r="3.15"/><circle cx="1348.81" cy="912.06" r="3.15"/><circle cx="1359.72" cy="904.51" r="3.15"/><circle cx="1363.91" cy="905.35" r="3.15"/><circle cx="1299.3" cy="902.83" r="3.15"/><circle cx="1299.3" cy="912.06" r="3.15"/><circle cx="1290.07" cy="917.94" r="3.15"/><circle cx="1317.76" cy="909.54" r="3.15"/><circle cx="1325.31" cy="907.87" r="3.15"/><circle cx="1332.03" cy="909.54" r="3.15"/><circle cx="1315.24" cy="913.74" r="3.15"/><circle cx="1321.96" cy="915.42" r="3.15"/><circle cx="1330.35" cy="917.1" r="3.15"/><circle cx="1335.38" cy="918.77" r="3.15"/><circle cx="1323.64" cy="922.13" r="3.15"/><circle cx="1330.35" cy="923.81" r="3.15"/><circle cx="1337.06" cy="922.13" r="3.15"/><circle cx="1326.99" cy="928.84" r="3.15"/><circle cx="1333.7" cy="930.52" r="3.15"/><circle cx="1324.47" cy="933.88" r="3.15"/><circle cx="1357.2" cy="917.94" r="3.15"/><circle cx="1368.11" cy="916.26" r="3.15"/><circle cx="1311.89" cy="926.33" r="3.15"/><circle cx="1280.84" cy="928.84" r="3.15"/><circle cx="1288.39" cy="934.72" r="3.15"/><circle cx="1292.59" cy="939.75" r="3.15"/><circle cx="1306.01" cy="942.27" r="3.15"/><circle cx="1304.33" cy="947.31" r="3.15"/><circle cx="1338.74" cy="938.91" r="3.15"/><circle cx="1340.42" cy="945.63" r="3.15"/><circle cx="1333.7" cy="943.95" r="3.15"/><circle cx="1320.28" cy="943.95" r="3.15"/><circle cx="1321.96" cy="951.5" r="3.15"/><circle cx="1290.07" cy="952.34" r="3.15"/><circle cx="1305.17" cy="952.34" r="3.15"/><circle cx="1298.46" cy="959.23" r="3.15"/><circle cx="1316.92" cy="960.07" r="3.15"/><circle cx="1315.24" cy="964.27" r="3.15"/><circle cx="1309.37" cy="968.04" r="3.15"/><circle cx="1287.97" cy="968.04" r="3.15"/><circle cx="1302.66" cy="972.66" r="3.15"/><circle cx="1303.5" cy="985.24" r="3.15"/><circle cx="1275.57" cy="864.23" r="3.15"/><circle cx="1286.06" cy="891.07" r="3.15"/><circle cx="1256.28" cy="909.95" r="3.15"/><circle cx="1219.36" cy="926.73" r="3.15"/><circle cx="1256.28" cy="924.21" r="3.15"/><circle cx="1258.79" cy="933.44" r="3.15"/><circle cx="1260.47" cy="939.73" r="3.15"/><circle cx="1253.95" cy="957.55" r="3.15"/><circle cx="1262.51" cy="957.55" r="3.15"/><circle cx="1260.49" cy="966.11" r="3.15"/><circle cx="1273.59" cy="959.57" r="3.15"/><circle cx="1205.11" cy="1046.68" r="3.15"/><circle cx="1258.48" cy="1049.7" r="3.15"/><circle cx="1279.63" cy="985.25" r="3.15"/><circle cx="1331.17" cy="764.35" r="3.15"/><circle cx="1322.35" cy="763.11" r="3.15"/><circle cx="1326.17" cy="762.74" r="3.15"/><circle cx="1317.64" cy="765.93" r="3.15"/><circle cx="1326.09" cy="762.89" r="3.15"/><circle cx="1325.92" cy="765.01" r="3.15"/><circle cx="1334.13" cy="765.68" r="3.15"/><circle cx="1324.97" cy="762.58" r="3.15"/><circle cx="1329.12" cy="763.07" r="3.15"/><circle cx="1334.13" cy="769.59" r="3.15"/><polyline points="1322.8,778.46 1330.35,780.14 1343.77,776.36" fill="none" stroke="#1f77b4" stroke-width="5.03" stroke-linejoin="round" stroke-linecap="round"/><circle cx="1324.01" cy="790.68" r="3.15"/><circle cx="1317.04" cy="782.23" r="3.15"/><circle cx="1321.06" cy="790.25" r="3.15"/><circle cx="1317.59" cy="787.57" r="3.15"/><circle cx="1332.18" cy="801.87" r="3.15"/><circle cx="1333.56" cy="801.42" r="3.15"/><circle cx="1319.14" cy="812.04" r="3.15"/><circle cx="1326.12" cy="822.6" r="3.15"/><circle cx="1316.12" cy="799.93" r="3.15"/><circle cx="1318.4" cy="801.78" r="3.15"/><circle cx="1326.55" cy="799.72" r="3.15"/><circle cx="1322.04" cy="796.65" r="3.15"/><circle cx="1322.96" cy="814.61" r="3.15"/><circle cx="1316.53" cy="813.11" r="3.15"/><circle cx="1322.08" cy="812.65" r="3.15"/><circle cx="1324.07" cy="822.42" r="3.15"/><circle cx="1319.47" cy="817.18" r="3.15"/><circle cx="1316.92" cy="799.95" r="3.15"/><circle cx="1318.67" cy="803.47" r="3.15"/><circle cx="1326.51" cy="810.07" r="3.15"/><circle cx="1325.65" cy="800.52" r="3.15"/><circle cx="1327.99" cy="818.02" r="3.15"/><circle cx="1317.26" cy="809.66" r="3.15"/><circle cx="1323.76" cy="817.8" r="3.15"/><circle cx="1320.35" cy="820.31" r="3.15"/><circle cx="1323.53" cy="800.32" r="3.15"/><circle cx="1320.47" cy="807.03" r="3.15"/><circle cx="1354.42" cy="785.61" r="3.15"/><circle cx="1347.09" cy="787.55" r="3.15"/><circle cx="1348.58" cy="789.84" r="3.15"/><circle cx="1356.79" cy="785.69" r="3.15"/><circle cx="1349.73" cy="788.66" r="3.15"/><circle cx="1354.44" cy="790.55" r="3.15"/><circle cx="1355.67" cy="784.69" r="3.15"/><circle cx="1351.31" cy="786.17" r="3.15"/><circle cx="1352.36" cy="806.54" r="3.15"/><circle cx="1353.68" cy="801.02" r="3.15"/><circle cx="1350.65" cy="808.01" r="3.15"/><circle cx="1354.35" cy="804.66" r="3.15"/><circle cx="1351.57" cy="803.16" r="3.15"/><polyline points="1352.17,818.74 1348.81,825.45 1342.1,827.97" fill="none" stroke="#1f77b4" stroke-width="5.03" stroke-linejoin="round" stroke-linecap="round"/><circle cx="1317.13" cy="830.54" r="3.15"/><circle cx="1318.2" cy="857.47" r="3.15"/><circle cx="1318.89" cy="835.14" r="3.15"/><circle cx="1318.25" cy="856.88" r="3.15"/><circle cx="1323.3" cy="855.21" r="3.15"/><circle cx="1314.58" cy="838.74" r="3.15"/><circle cx="1316.11" cy="832.12" r="3.15"/><circle cx="1315.09" cy="845.18" r="3.15"/><circle cx="1314.9" cy="834.13" r="3.15"/><circle cx="1316.33" cy="846.86" r="3.15"/><circle cx="1318.38" cy="859.18" r="3.15"/><circle cx="1317.38" cy="855.52" r="3.15"/><circle cx="1327.32" cy="845.98" r="3.15"/><circle cx="1337.3" cy="849.79" r="3.15"/><circle cx="1334.26" cy="845.88" r="3.15"/><circle cx="1336.91" cy="847.76" r="3.15"/><circle cx="1334.36" cy="831.21" r="3.15"/><circle cx="1339.77" cy="855.98" r="3.15"/><circle cx="1333.03" cy="854.46" r="3.15"/><circle cx="1335.57" cy="831.83" r="3.15"/><circle cx="1332.15" cy="854" r="3.15"/><circle cx="1328.05" cy="847.09" r="3.15"/><circle cx="1332.05" cy="836.85" r="3.15"/><circle cx="1327.42" cy="845.15" r="3.15"/><circle cx="1326.6" cy="836.95" r="3.15"/><circle cx="1330.16" cy="852.37" r="3.15"/><circle cx="1328.85" cy="847.76" r="3.15"/><circle cx="1330.59" cy="859.68" r="3.15"/><circle cx="1328.79" cy="852" r="3.15"/><circle cx="1329.57" cy="853.52" r="3.15"/><circle cx="1327.98" cy="838.28" r="3.15"/><circle cx="1330.46" cy="859.29" r="3.15"/><circle cx="1330.23" cy="841.36" r="3.15"/><circle cx="1337.58" cy="849.6" r="3.15"/><circle cx="1344.19" cy="857.33" r="3.15"/><circle cx="1348.58" cy="846.26" r="3.15"/><circle cx="1354.17" cy="846.75" r="3.15"/><circle cx="1347.45" cy="850.03" r="3.15"/><circle cx="1352.15" cy="851.62" r="3.15"/><circle cx="1356.16" cy="851.45" r="3.15"/><circle cx="1351.2" cy="853.52" r="3.15"/><circle cx="1345.65" cy="851.37" r="3.15"/><circle cx="1345.89" cy="849.92" r="3.15"/><circle cx="1351.96" cy="837.58" r="3.15"/><circle cx="1352.03" cy="855.08" r="3.15"/><circle cx="1355.93" cy="844.64" r="3.15"/><circle cx="1347.5" cy="843.68" r="3.15"/><circle cx="1345.8" cy="846.11" r="3.15"/><circle cx="1354.12" cy="846.3" r="3.15"/><circle cx="1353.49" cy="853.69" r="3.15"/><polyline points="1364.75,772.59 1373.14,770.07" fill="none" stroke="#1f77b4" stroke-width="5.03" stroke-linejoin="round" stroke-linecap="round"/><polyline points="1389.09,804.47 1394.96,809.51" fill="none" stroke="#1f77b4" stroke-width="5.03" stroke-linejoin="round" stroke-linecap="round"/><polyline points="1363.07,823.77 1366.43,826.29" fill="none" stroke="#1f77b4" stroke-width="5.03" stroke-linejoin="round" stroke-linecap="round"/><circle cx="1355.04" cy="865.54" r="3.15"/><circle cx="1341.06" cy="867.15" r="3.15"/><circle cx="1335.17" cy="867.99" r="3.15"/><circle cx="1351.07" cy="870.32" r="3.15"/><circle cx="1327.2" cy="860.81" r="3.15"/><circle cx="1334.69" cy="862.24" r="3.15"/><circle cx="1318.31" cy="862.2" r="3.15"/><circle cx="1346.45" cy="868.65" r="3.15"/><circle cx="1325.33" cy="866.46" r="3.15"/><circle cx="1352.01" cy="857.87" r="3.15"/><circle cx="1333.39" cy="860.76" r="3.15"/><circle cx="1345.67" cy="860.84" r="3.15"/><circle cx="1315.57" cy="859.53" r="3.15"/><circle cx="1344.31" cy="863.45" r="3.15"/><circle cx="1331.32" cy="862.24" r="3.15"/><circle cx="1320.58" cy="869.17" r="3.15"/><circle cx="1354.33" cy="857.44" r="3.15"/><circle cx="1336.67" cy="855.21" r="3.15"/><circle cx="1352.22" cy="859.26" r="3.15"/><circle cx="1339.58" cy="864.08" r="3.15"/><circle cx="1355.91" cy="865.99" r="3.15"/><circle cx="1358.67" cy="860.9" r="3.15"/><circle cx="1318.56" cy="858.43" r="3.15"/><circle cx="1315.93" cy="868.06" r="3.15"/><circle cx="1348.68" cy="868.93" r="3.15"/><circle cx="1353.54" cy="857.31" r="3.15"/><circle cx="1316.85" cy="867.17" r="3.15"/><circle cx="1343.65" cy="867.04" r="3.15"/><circle cx="1363.45" cy="860.73" r="3.15"/><circle cx="1329.69" cy="855.4" r="3.15"/><circle cx="1319.76" cy="863.09" r="3.15"/><circle cx="1346.41" cy="859.35" r="3.15"/><circle cx="1318.66" cy="867.64" r="3.15"/><circle cx="1347.97" cy="864.24" r="3.15"/><circle cx="1320.78" cy="858.64" r="3.15"/><circle cx="1354.15" cy="859.31" r="3.15"/><circle cx="1320.7" cy="855.66" r="3.15"/><circle cx="1348" cy="864.54" r="3.15"/><circle cx="1325.47" cy="874.86" r="3.15"/><circle cx="1333.84" cy="893.56" r="3.15"/><circle cx="1320.97" cy="899.19" r="3.15"/><circle cx="1320.56" cy="878.01" r="3.15"/><circle cx="1315.78" cy="881.52" r="3.15"/><circle cx="1324.83" cy="888" r="3.15"/><circle cx="1327.62" cy="875.66" r="3.15"/><circle cx="1331.74" cy="888.1" r="3.15"/><circle cx="1329.01" cy="899.3" r="3.15"/><circle cx="1317.74" cy="892.42" r="3.15"/><circle cx="1326.31" cy="882.61" r="3.15"/><circle cx="1322.5" cy="877.73" r="3.15"/><circle cx="1330.33" cy="876.77" r="3.15"/><circle cx="1335.65" cy="877.21" r="3.15"/><circle cx="1331.04" cy="889.01" r="3.15"/><circle cx="1335.45" cy="883.89" r="3.15"/><circle cx="1324.07" cy="875.34" r="3.15"/><circle cx="1317.82" cy="875.67" r="3.15"/><circle cx="1326.43" cy="895.45" r="3.15"/><circle cx="1333.66" cy="890.49" r="3.15"/><circle cx="1323.34" cy="879.96" r="3.15"/><circle cx="1335.68" cy="891.5" r="3.15"/><circle cx="1331.09" cy="888.18" r="3.15"/><circle cx="1335.25" cy="889.08" r="3.15"/><circle cx="1317.99" cy="882.75" r="3.15"/><circle cx="1319.51" cy="880.35" r="3.15"/><circle cx="1329.45" cy="885.03" r="3.15"/><circle cx="1325.25" cy="874.87" r="3.15"/><circle cx="1324.9" cy="889.05" r="3.15"/><circle cx="1320.83" cy="886.68" r="3.15"/><circle cx="1335.7" cy="877.91" r="3.15"/><circle cx="1313.69" cy="890.64" r="3.15"/><circle cx="1339.15" cy="879.46" r="3.15"/><circle cx="1336.5" cy="880.55" r="3.15"/><circle cx="1329.28" cy="878.38" r="3.15"/><circle cx="1330.18" cy="872.52" r="3.15"/><circle cx="1330.55" cy="874.71" r="3.15"/><circle cx="1323.89" cy="873.84" r="3.15"/><circle cx="1323.48" cy="910.77" r="3.15"/><circle cx="1321.79" cy="919.98" r="3.15"/><circle cx="1331.8" cy="924.8" r="3.15"/><circle cx="1327.7" cy="931.23" r="3.15"/><circle cx="1324.3" cy="910.42" r="3.15"/><circle cx="1332.59" cy="916.68" r="3.15"/><circle cx="1336.74" cy="916.99" r="3.15"/><circle cx="1330.27" cy="908.42" r="3.15"/><circle cx="1318" cy="909.24" r="3.15"/><circle cx="1324.05" cy="915.69" r="3.15"/><circle cx="1328.74" cy="925.24" r="3.15"/><circle cx="1319.14" cy="914.06" r="3.15"/><circle cx="1323.41" cy="932.6" r="3.15"/><circle cx="1317.57" cy="918.16" r="3.15"/><circle cx="1324.6" cy="915.91" r="3.15"/><circle cx="1323.66" cy="914.2" r="3.15"/><circle cx="1324.21" cy="911.61" r="3.15"/><circle cx="1333.41" cy="933.59" r="3.15"/><circle cx="1339.28" cy="916.95" r="3.15"/><circle cx="1325.83" cy="922.2" r="3.15"/><circle cx="1331.7" cy="930.02" r="3.15"/><circle cx="1327.53" cy="918.95" r="3.15"/><circle cx="1316.88" cy="910.73" r="3.15"/><circle cx="1340.31" cy="922.84" r="3.15"/><circle cx="1324.33" cy="930.7" r="3.15"/><circle cx="1324.37" cy="922.25" r="3.15"/><circle cx="1319.86" cy="915.68" r="3.15"/><circle cx="1326.66" cy="927.67" r="3.15"/><circle cx="1329.17" cy="908.8" r="3.15"/><circle cx="1320.01" cy="915.59" r="3.15"/><circle cx="1335.55" cy="916.36" r="3.15"/><circle cx="1332.75" cy="921.8" r="3.15"/><circle cx="1332.8" cy="916.14" r="3.15"/><circle cx="1347.95" cy="908.27" r="3.15"/><circle cx="1344.12" cy="910.15" r="3.15"/><circle cx="1341.79" cy="904.56" r="3.15"/><circle cx="1339.05" cy="904.55" r="3.15"/><circle cx="1347.33" cy="905.98" r="3.15"/><circle cx="1348.31" cy="914.88" r="3.15"/><circle cx="1347.13" cy="909.81" r="3.15"/><circle cx="1340.54" cy="908.45" r="3.15"/><polyline points="1348.81,881.01 1348.81,889.4" fill="none" stroke="#1f77b4" stroke-width="5.03" stroke-linejoin="round" stroke-linecap="round"/><circle cx="1338.77" cy="939.36" r="3.15"/><circle cx="1334.61" cy="940.96" r="3.15"/><circle cx="1341.27" cy="945.9" r="3.15"/><circle cx="1342.85" cy="946.89" r="3.15"/><circle cx="1338.17" cy="939.76" r="3.15"/><polyline points="1303.5,943.95 1308.53,941.43" fill="none" stroke="#1f77b4" stroke-width="5.03" stroke-linejoin="round" stroke-linecap="round"/><polyline points="1287.55,934.72 1293.43,940.59" fill="none" stroke="#1f77b4" stroke-width="5.03" stroke-linejoin="round" stroke-linecap="round"/><polyline points="1295.94,889.4 1302.66,883.53" fill="none" stroke="#1f77b4" stroke-width="5.03" stroke-linejoin="round" stroke-linecap="round"/><polyline points="1385.73,863.39 1389.09,868.43 1394.96,868.43" fill="none" stroke="#1f77b4" stroke-width="5.03" stroke-linejoin="round" stroke-linecap="round"/><polyline points="1357.2,905.35 1363.91,905.35" fill="none" stroke="#1f77b4" stroke-width="5.03" stroke-linejoin="round" stroke-linecap="round"/><circle cx="1338.22" cy="873.94" r="3.15"/><circle cx="1328.22" cy="867.39" r="3.15"/><circle cx="1332.06" cy="869.42" r="3.15"/><circle cx="1318.65" cy="867.37" r="3.15"/><circle cx="1319.27" cy="873.66" r="3.15"/><circle cx="1324.63" cy="870.65" r="3.15"/><circle cx="1333.08" cy="869.72" r="3.15"/><circle cx="1326.11" cy="870.56" r="3.15"/><circle cx="1327.65" cy="867.18" r="3.15"/><circle cx="1332.78" cy="871.98" r="3.15"/><circle cx="1329.25" cy="872.09" r="3.15"/></g></g>
<line x1="1192.2" y1="1067.8" x2="1627.2" y2="659.9" stroke="#d62728" stroke-width="2.7" clip-path="url(#clipg)"/>
<rect x="1192.2" y="659.9" width="435" height="407.9" fill="none" stroke="#3c3c3c" stroke-width="2.9" stroke-linejoin="miter" stroke-linecap="square"/>
<line x1="1228.45" y1="1067.8" x2="1228.45" y2="1076.8" stroke="#3c3c3c" stroke-width="2.6"/>
<text x="1198.63" y="1103.3" font-size="24.2" stroke-width="0.49" fill="#1e1e1e" stroke="#1e1e1e">−1.5</text>
<line x1="1184.7" y1="1033.81" x2="1192.2" y2="1033.81" stroke="#3c3c3c" stroke-width="2.6"/>
<text x="1117.17" y="1043.52" font-size="24.2" stroke-width="0.49" fill="#1e1e1e" stroke="#1e1e1e">−1.5</text>
<line x1="1337.2" y1="1067.8" x2="1337.2" y2="1076.8" stroke="#3c3c3c" stroke-width="2.6"/>
<text x="1317.78" y="1103.3" font-size="24.2" stroke-width="0.49" fill="#1e1e1e" stroke="#1e1e1e">0.0</text>
<line x1="1184.7" y1="931.83" x2="1192.2" y2="931.83" stroke="#3c3c3c" stroke-width="2.6"/>
<text x="1137.02" y="941.79" font-size="24.2" stroke-width="0.49" fill="#1e1e1e" stroke="#1e1e1e">0.0</text>
<line x1="1445.95" y1="1067.8" x2="1445.95" y2="1076.8" stroke="#3c3c3c" stroke-width="2.6"/>
<text x="1426.17" y="1103.3" font-size="24.2" stroke-width="0.49" fill="#1e1e1e" stroke="#1e1e1e">1.5</text>
<line x1="1184.7" y1="829.86" x2="1192.2" y2="829.86" stroke="#3c3c3c" stroke-width="2.6"/>
<text x="1137.5" y="839.57" font-size="24.2" stroke-width="0.49" fill="#1e1e1e" stroke="#1e1e1e">1.5</text>
<line x1="1554.7" y1="1067.8" x2="1554.7" y2="1076.8" stroke="#3c3c3c" stroke-width="2.6"/>
<text x="1535.16" y="1103.3" font-size="24.2" stroke-width="0.49" fill="#1e1e1e" stroke="#1e1e1e">3.0</text>
<line x1="1184.7" y1="727.88" x2="1192.2" y2="727.88" stroke="#3c3c3c" stroke-width="2.6"/>
<text x="1137.02" y="737.84" font-size="24.2" stroke-width="0.49" fill="#1e1e1e" stroke="#1e1e1e">3.0</text>
<text x="1258.9" y="646.4" font-size="30.1" stroke-width="0.35" fill="#1e1e1e" stroke="#1e1e1e">Household matched</text>
<text x="1306.74" y="1141.7" font-size="30.3" stroke-width="0.34" fill="#1e1e1e" stroke="#1e1e1e">Ground truth</text>
<text x="1292.84" y="1178" font-size="30.3" stroke-width="0.34" fill="#1e1e1e" stroke="#1e1e1e">Log-fold change</text>
<text x="1459.31" y="967.3" font-size="29.8" stroke-width="0.35" fill="#1e1e1e" stroke="#1e1e1e">r=0.426</text>
<text x="1409.25" y="1001.3" font-size="29.8" stroke-width="0.35" fill="#1e1e1e" stroke="#1e1e1e">mse=589.3</text>
<clipPath id="cliph"><rect x="1715.2" y="659.8" width="435.5" height="408"/></clipPath>
<g fill="#1f77b4"><g clip-path="url(#cliph)"><circle cx="1876.36" cy="821.82" r="3.15"/><circle cx="1877.2" cy="843.64" r="3.15"/><circle cx="1878.88" cy="841.96" r="3.15"/><circle cx="1869.65" cy="854.12" r="3.15"/><circle cx="1854.54" cy="863.77" r="3.15"/><circle cx="1855.38" cy="867.13" r="3.15"/><circle cx="1853.7" cy="873.84" r="3.15"/><circle cx="1855.38" cy="879.72" r="3.15"/><circle cx="1852.03" cy="880.56" r="3.15"/><circle cx="1863.77" cy="873" r="3.15"/><circle cx="1872.17" cy="877.62" r="3.15"/><circle cx="1867.97" cy="884.33" r="3.15"/><circle cx="1880.56" cy="868.39" r="3.15"/><circle cx="1893.14" cy="871.33" r="3.15"/><circle cx="1888.95" cy="876.36" r="3.15"/><circle cx="1894.82" cy="874.68" r="3.15"/><circle cx="1886.43" cy="878.04" r="3.15"/><circle cx="1915.8" cy="849.51" r="3.15"/><circle cx="1917.48" cy="859.58" r="3.15"/><circle cx="1910.77" cy="864.19" r="3.15"/><circle cx="1905.73" cy="881.4" r="3.15"/><circle cx="1836.92" cy="881.82" r="3.15"/><circle cx="1843.64" cy="881.82" r="3.15"/><circle cx="1843.64" cy="892.31" r="3.15"/><circle cx="1846.99" cy="893.98" r="3.15"/><circle cx="1853.7" cy="896.5" r="3.15"/><circle cx="1875.52" cy="889.79" r="3.15"/><circle cx="1877.2" cy="895.66" r="3.15"/><circle cx="1887.27" cy="892.31" r="3.15"/><circle cx="1895.66" cy="890.63" r="3.15"/><circle cx="1857.06" cy="897.52" r="3.15"/><circle cx="1846.99" cy="904.23" r="3.15"/><circle cx="1853.7" cy="905.07" r="3.15"/><circle cx="1850.35" cy="911.78" r="3.15"/><circle cx="1858.74" cy="913.46" r="3.15"/><circle cx="1863.77" cy="907.59" r="3.15"/><circle cx="1870.49" cy="901.71" r="3.15"/><circle cx="1878.88" cy="903.39" r="3.15"/><circle cx="1873.84" cy="909.27" r="3.15"/><circle cx="1868.81" cy="913.46" r="3.15"/><circle cx="1839.44" cy="905.07" r="3.15"/><circle cx="1840.28" cy="917.66" r="3.15"/><circle cx="1846.99" cy="918.5" r="3.15"/><circle cx="1822.66" cy="909.27" r="3.15"/><circle cx="1908.25" cy="905.07" r="3.15"/><circle cx="1888.95" cy="910.1" r="3.15"/><circle cx="1843.64" cy="924.37" r="3.15"/><circle cx="1850.35" cy="922.69" r="3.15"/><circle cx="1858.74" cy="922.69" r="3.15"/><circle cx="1865.45" cy="926.05" r="3.15"/><circle cx="1873.84" cy="925.21" r="3.15"/><circle cx="1878.04" cy="928.57" r="3.15"/><circle cx="1840.28" cy="931.08" r="3.15"/><circle cx="1846.99" cy="930.24" r="3.15"/><circle cx="1855.38" cy="930.24" r="3.15"/><circle cx="1863.77" cy="931.92" r="3.15"/><circle cx="1872.17" cy="933.6" r="3.15"/><circle cx="1836.08" cy="941.15" r="3.15"/><circle cx="1843.64" cy="938.64" r="3.15"/><circle cx="1850.35" cy="936.96" r="3.15"/><circle cx="1858.74" cy="936.96" r="3.15"/><circle cx="1867.13" cy="938.64" r="3.15"/><circle cx="1875.52" cy="940.31" r="3.15"/><circle cx="1880.56" cy="940.31" r="3.15"/><circle cx="1836.92" cy="945.35" r="3.15"/><circle cx="1845.31" cy="945.35" r="3.15"/><circle cx="1853.7" cy="947.03" r="3.15"/><circle cx="1862.1" cy="945.35" r="3.15"/><circle cx="1868.81" cy="947.03" r="3.15"/><circle cx="1850.35" cy="950.38" r="3.15"/><circle cx="1857.06" cy="952.06" r="3.15"/><circle cx="1867.13" cy="950.38" r="3.15"/><circle cx="1811.75" cy="932.76" r="3.15"/><circle cx="1826.85" cy="931.08" r="3.15"/><circle cx="1820.14" cy="940.31" r="3.15"/><circle cx="1827.69" cy="950.38" r="3.15"/><circle cx="1893.14" cy="933.18" r="3.15"/><circle cx="1840.28" cy="957.1" r="3.15"/><circle cx="1845.31" cy="960.45" r="3.15"/><circle cx="1841.96" cy="966.33" r="3.15"/><circle cx="1856.22" cy="957.94" r="3.15"/><circle cx="1860.42" cy="957.94" r="3.15"/><circle cx="1859.58" cy="966.33" r="3.15"/><circle cx="1869.65" cy="959.61" r="3.15"/><circle cx="1884.75" cy="959.61" r="3.15"/><circle cx="1901.54" cy="957.52" r="3.15"/><circle cx="1913.28" cy="955" r="3.15"/><circle cx="1810.07" cy="963.81" r="3.15"/><circle cx="1815.94" cy="965.49" r="3.15"/><circle cx="1831.89" cy="962.13" r="3.15"/><circle cx="1801.68" cy="975.56" r="3.15"/><circle cx="1822.66" cy="975.56" r="3.15"/><circle cx="1827.69" cy="978.07" r="3.15"/><circle cx="1820.98" cy="978.91" r="3.15"/><circle cx="1841.96" cy="976.82" r="3.15"/><circle cx="1872.17" cy="974.3" r="3.15"/><circle cx="1846.15" cy="985.63" r="3.15"/><circle cx="1857.06" cy="986.05" r="3.15"/><circle cx="1857.9" cy="987.31" r="3.15"/><circle cx="1820.14" cy="987.31" r="3.15"/><circle cx="1813.43" cy="993.18" r="3.15"/><circle cx="1783.79" cy="955.08" r="3.15"/><circle cx="1801.41" cy="975.64" r="3.15"/><circle cx="1743.1" cy="976.48" r="3.15"/><circle cx="1774.76" cy="990.94" r="3.15"/><circle cx="1779.54" cy="997.31" r="3.15"/><circle cx="1794.68" cy="993.73" r="3.15"/><circle cx="1728.15" cy="1023.61" r="3.15"/><circle cx="1777.15" cy="1036.35" r="3.15"/><circle cx="1783.92" cy="1043.13" r="3.15"/><circle cx="1857.04" cy="1000.33" r="3.15"/><circle cx="1839.22" cy="1023.86" r="3.15"/><circle cx="1844.21" cy="1021.72" r="3.15"/><circle cx="1853.12" cy="1019.58" r="3.15"/><circle cx="1853.12" cy="1036.34" r="3.15"/><circle cx="1820.32" cy="1049.53" r="3.15"/><circle cx="1842.07" cy="1047.39" r="3.15"/><circle cx="1911" cy="752.8" r="3.15"/><circle cx="1822.3" cy="787.2" r="3.15"/><circle cx="1870.48" cy="912.03" r="3.15"/><circle cx="1849.12" cy="906.04" r="3.15"/><circle cx="1865.93" cy="895.59" r="3.15"/><circle cx="1853.41" cy="911.07" r="3.15"/><circle cx="1848.16" cy="896.43" r="3.15"/><circle cx="1863.18" cy="912.41" r="3.15"/><circle cx="1856.96" cy="895.73" r="3.15"/><circle cx="1859.93" cy="907.75" r="3.15"/><circle cx="1841.71" cy="902.27" r="3.15"/><circle cx="1863.1" cy="913.19" r="3.15"/><circle cx="1851.65" cy="913.84" r="3.15"/><circle cx="1862.93" cy="907.57" r="3.15"/><circle cx="1846.36" cy="910.75" r="3.15"/><circle cx="1843.62" cy="904.53" r="3.15"/><circle cx="1878.18" cy="899.39" r="3.15"/><circle cx="1876.47" cy="905.62" r="3.15"/><circle cx="1844.8" cy="915.31" r="3.15"/><circle cx="1853.1" cy="900.1" r="3.15"/><circle cx="1860.96" cy="909.52" r="3.15"/><circle cx="1849.53" cy="895.27" r="3.15"/><circle cx="1851.16" cy="900.83" r="3.15"/><circle cx="1842.42" cy="900.79" r="3.15"/><circle cx="1874.58" cy="899.88" r="3.15"/><circle cx="1843.51" cy="899.19" r="3.15"/><circle cx="1850.94" cy="915.8" r="3.15"/><circle cx="1875.26" cy="897.08" r="3.15"/><circle cx="1871.58" cy="896.92" r="3.15"/><circle cx="1875.41" cy="897.49" r="3.15"/><circle cx="1862.03" cy="904.53" r="3.15"/><circle cx="1876.12" cy="898.7" r="3.15"/><circle cx="1840.2" cy="899.49" r="3.15"/><circle cx="1859.5" cy="910.75" r="3.15"/><circle cx="1865.76" cy="908.62" r="3.15"/><circle cx="1865.75" cy="904.07" r="3.15"/><circle cx="1866.13" cy="913.95" r="3.15"/><circle cx="1866.67" cy="896.64" r="3.15"/><circle cx="1851.8" cy="905.32" r="3.15"/><circle cx="1850.9" cy="899.49" r="3.15"/><circle cx="1853.8" cy="913.88" r="3.15"/><circle cx="1849.2" cy="916.2" r="3.15"/><circle cx="1868.63" cy="912.1" r="3.15"/><circle cx="1840.79" cy="907.8" r="3.15"/><circle cx="1841.81" cy="903.98" r="3.15"/><circle cx="1849.84" cy="897.32" r="3.15"/><circle cx="1853.8" cy="904.87" r="3.15"/><circle cx="1862.51" cy="902.82" r="3.15"/><circle cx="1840.71" cy="902.45" r="3.15"/><circle cx="1867.47" cy="895.08" r="3.15"/><circle cx="1848.53" cy="922.77" r="3.15"/><circle cx="1859.44" cy="931.09" r="3.15"/><circle cx="1848.9" cy="926.15" r="3.15"/><circle cx="1849.34" cy="959.11" r="3.15"/><circle cx="1857.58" cy="924.16" r="3.15"/><circle cx="1854.77" cy="950.34" r="3.15"/><circle cx="1855.27" cy="925.93" r="3.15"/><circle cx="1859.42" cy="925.96" r="3.15"/><circle cx="1839.5" cy="934.54" r="3.15"/><circle cx="1853.81" cy="940.35" r="3.15"/><circle cx="1844.19" cy="945.44" r="3.15"/><circle cx="1855.91" cy="961.32" r="3.15"/><circle cx="1858.84" cy="935.16" r="3.15"/><circle cx="1839.77" cy="952.16" r="3.15"/><circle cx="1856.13" cy="952.61" r="3.15"/><circle cx="1844.09" cy="964.47" r="3.15"/><circle cx="1846.7" cy="934.2" r="3.15"/><circle cx="1846.9" cy="960.41" r="3.15"/><circle cx="1861.17" cy="941.78" r="3.15"/><circle cx="1846.04" cy="936.46" r="3.15"/><circle cx="1839.68" cy="962.36" r="3.15"/><circle cx="1857.48" cy="933.79" r="3.15"/><circle cx="1855" cy="965.04" r="3.15"/><circle cx="1845.21" cy="967.95" r="3.15"/><circle cx="1859.02" cy="933.71" r="3.15"/><circle cx="1840.71" cy="934.63" r="3.15"/><circle cx="1854.16" cy="958.88" r="3.15"/><circle cx="1852.36" cy="934.14" r="3.15"/><circle cx="1857.02" cy="922.78" r="3.15"/><circle cx="1848.9" cy="936.96" r="3.15"/><circle cx="1841.09" cy="937.58" r="3.15"/><circle cx="1850.75" cy="929.79" r="3.15"/><circle cx="1855.95" cy="938.76" r="3.15"/><circle cx="1839.82" cy="949.32" r="3.15"/><circle cx="1846.02" cy="951.67" r="3.15"/><circle cx="1843.34" cy="955.18" r="3.15"/><circle cx="1848.4" cy="923.13" r="3.15"/><circle cx="1853.38" cy="962.81" r="3.15"/><circle cx="1847.34" cy="929.37" r="3.15"/><circle cx="1841.56" cy="930.89" r="3.15"/><circle cx="1858.67" cy="956.41" r="3.15"/><circle cx="1841.37" cy="936.07" r="3.15"/><circle cx="1835.92" cy="942.54" r="3.15"/><circle cx="1861.72" cy="925.35" r="3.15"/><circle cx="1857.74" cy="927.87" r="3.15"/><circle cx="1855.49" cy="946.03" r="3.15"/><circle cx="1842.82" cy="963.13" r="3.15"/><circle cx="1850.97" cy="937.03" r="3.15"/><circle cx="1854.27" cy="935.74" r="3.15"/><circle cx="1846.62" cy="961.66" r="3.15"/><circle cx="1847.01" cy="927.9" r="3.15"/><circle cx="1858.3" cy="953.55" r="3.15"/><circle cx="1849.3" cy="964.07" r="3.15"/><circle cx="1844.81" cy="940.04" r="3.15"/><circle cx="1845.83" cy="941.37" r="3.15"/><circle cx="1841.85" cy="941.81" r="3.15"/><circle cx="1858.61" cy="931.45" r="3.15"/><circle cx="1848.2" cy="934.39" r="3.15"/><circle cx="1851.34" cy="947.43" r="3.15"/><circle cx="1853.17" cy="926.34" r="3.15"/><circle cx="1852.06" cy="952.97" r="3.15"/><circle cx="1859.02" cy="959.12" r="3.15"/><circle cx="1856.96" cy="945.35" r="3.15"/><circle cx="1861.08" cy="929.14" r="3.15"/><circle cx="1862.92" cy="928.51" r="3.15"/><circle cx="1849.72" cy="964.04" r="3.15"/><circle cx="1840.3" cy="931.72" r="3.15"/><circle cx="1864.81" cy="948.04" r="3.15"/><circle cx="1869.29" cy="939.82" r="3.15"/><circle cx="1874.42" cy="926.47" r="3.15"/><circle cx="1873.65" cy="939.55" r="3.15"/><circle cx="1878.29" cy="927.94" r="3.15"/><circle cx="1874.42" cy="923.44" r="3.15"/><circle cx="1874.22" cy="927.42" r="3.15"/><circle cx="1869.08" cy="934.68" r="3.15"/><circle cx="1868.66" cy="930.18" r="3.15"/><circle cx="1869.73" cy="937.77" r="3.15"/><circle cx="1879.8" cy="926.62" r="3.15"/><circle cx="1872.29" cy="943.26" r="3.15"/><circle cx="1874.03" cy="945.2" r="3.15"/><circle cx="1867.52" cy="950.63" r="3.15"/><circle cx="1875.2" cy="941.36" r="3.15"/><circle cx="1875.08" cy="935.97" r="3.15"/><circle cx="1873.06" cy="924.46" r="3.15"/><circle cx="1875.26" cy="927.91" r="3.15"/><circle cx="1876.99" cy="934.77" r="3.15"/><circle cx="1876.47" cy="930.21" r="3.15"/><circle cx="1866.18" cy="943.04" r="3.15"/><circle cx="1879.71" cy="928.58" r="3.15"/><polyline points="1808.39,963.81 1817.62,966.33" fill="none" stroke="#1f77b4" stroke-width="5.03" stroke-linejoin="round" stroke-linecap="round"/><circle cx="1856.3" cy="986.3" r="3.15"/><circle cx="1860.95" cy="986.92" r="3.15"/><circle cx="1856.36" cy="988.93" r="3.15"/><circle cx="1858.88" cy="987.06" r="3.15"/><circle cx="1850.64" cy="983.22" r="3.15"/><circle cx="1843.77" cy="980.22" r="3.15"/><circle cx="1842.09" cy="980.66" r="3.15"/><circle cx="1841.85" cy="980.34" r="3.15"/><circle cx="1857.12" cy="982.92" r="3.15"/><circle cx="1850.69" cy="872" r="3.15"/><circle cx="1856.51" cy="871.57" r="3.15"/><circle cx="1852.52" cy="880.02" r="3.15"/><circle cx="1850.95" cy="878.48" r="3.15"/><circle cx="1856.14" cy="878.35" r="3.15"/><circle cx="1853.7" cy="880.5" r="3.15"/><circle cx="1852.82" cy="867.37" r="3.15"/><circle cx="1851.61" cy="877.22" r="3.15"/><circle cx="1860.03" cy="867.95" r="3.15"/><circle cx="1854.41" cy="874.37" r="3.15"/><circle cx="1890.2" cy="875.17" r="3.15"/><circle cx="1889.52" cy="875.56" r="3.15"/><circle cx="1887.41" cy="877.4" r="3.15"/><circle cx="1887.28" cy="875.3" r="3.15"/><circle cx="1897.92" cy="873.89" r="3.15"/><circle cx="1887.49" cy="878.58" r="3.15"/><polyline points="1836.92,881.82 1846.99,881.82" fill="none" stroke="#1f77b4" stroke-width="5.03" stroke-linejoin="round" stroke-linecap="round"/><circle cx="1855.46" cy="899.74" r="3.15"/><circle cx="1845.75" cy="892.92" r="3.15"/><circle cx="1843.82" cy="891.35" r="3.15"/><circle cx="1854.48" cy="893.84" r="3.15"/><circle cx="1845.99" cy="892.99" r="3.15"/><circle cx="1857.03" cy="899.99" r="3.15"/><circle cx="1846.18" cy="891.91" r="3.15"/><circle cx="1845.25" cy="897.63" r="3.15"/><circle cx="1842.21" cy="892.63" r="3.15"/><circle cx="1855.61" cy="898.33" r="3.15"/><circle cx="1880.29" cy="892.05" r="3.15"/><circle cx="1873.88" cy="890.86" r="3.15"/><circle cx="1873.17" cy="898.96" r="3.15"/><circle cx="1876.5" cy="893.71" r="3.15"/><circle cx="1874.18" cy="893.94" r="3.15"/><circle cx="1874.72" cy="899.25" r="3.15"/><polyline points="1910.77,864.19 1917.48,859.58" fill="none" stroke="#1f77b4" stroke-width="5.03" stroke-linejoin="round" stroke-linecap="round"/><polyline points="1874.68,845.31 1878.88,841.96" fill="none" stroke="#1f77b4" stroke-width="5.03" stroke-linejoin="round" stroke-linecap="round"/></g></g>
<line x1="1715.2" y1="1067.8" x2="2150.7" y2="659.8" stroke="#d62728" stroke-width="2.7" clip-path="url(#cliph)"/>
<rect x="1715.2" y="659.8" width="435.5" height="408" fill="none" stroke="#3c3c3c" stroke-width="2.9" stroke-linejoin="miter" stroke-linecap="square"/>
<line x1="1751.49" y1="1067.8" x2="1751.49" y2="1076.8" stroke="#3c3c3c" stroke-width="2.6"/>
<text x="1721.67" y="1103.3" font-size="24.2" stroke-width="0.49" fill="#1e1e1e" stroke="#1e1e1e">−1.5</text>
<line x1="1707.7" y1="1033.8" x2="1715.2" y2="1033.8" stroke="#3c3c3c" stroke-width="2.6"/>
<text x="1640.17" y="1043.51" font-size="24.2" stroke-width="0.49" fill="#1e1e1e" stroke="#1e1e1e">−1.5</text>
<line x1="1860.37" y1="1067.8" x2="1860.37" y2="1076.8" stroke="#3c3c3c" stroke-width="2.6"/>
<text x="1840.95" y="1103.3" font-size="24.2" stroke-width="0.49" fill="#1e1e1e" stroke="#1e1e1e">0.0</text>
<line x1="1707.7" y1="931.8" x2="1715.2" y2="931.8" stroke="#3c3c3c" stroke-width="2.6"/>
<text x="1660.02" y="941.75" font-size="24.2" stroke-width="0.49" fill="#1e1e1e" stroke="#1e1e1e">0.0</text>
<line x1="1969.24" y1="1067.8" x2="1969.24" y2="1076.8" stroke="#3c3c3c" stroke-width="2.6"/>
<text x="1949.46" y="1103.3" font-size="24.2" stroke-width="0.49" fill="#1e1e1e" stroke="#1e1e1e">1.5</text>
<line x1="1707.7" y1="829.8" x2="1715.2" y2="829.8" stroke="#3c3c3c" stroke-width="2.6"/>
<text x="1660.5" y="839.51" font-size="24.2" stroke-width="0.49" fill="#1e1e1e" stroke="#1e1e1e">1.5</text>
<line x1="2078.12" y1="1067.8" x2="2078.12" y2="1076.8" stroke="#3c3c3c" stroke-width="2.6"/>
<text x="2058.58" y="1103.3" font-size="24.2" stroke-width="0.49" fill="#1e1e1e" stroke="#1e1e1e">3.0</text>
<line x1="1707.7" y1="727.8" x2="1715.2" y2="727.8" stroke="#3c3c3c" stroke-width="2.6"/>
<text x="1660.02" y="737.75" font-size="24.2" stroke-width="0.49" fill="#1e1e1e" stroke="#1e1e1e">3.0</text>
<text x="1801.17" y="646.4" font-size="30.1" stroke-width="0.35" fill="#1e1e1e" stroke="#1e1e1e">Age sex matched</text>
<text x="1829.99" y="1141.7" font-size="30.3" stroke-width="0.34" fill="#1e1e1e" stroke="#1e1e1e">Ground truth</text>
<text x="1816.09" y="1178" font-size="30.3" stroke-width="0.34" fill="#1e1e1e" stroke="#1e1e1e">Log-fold change</text>
<text x="1980.41" y="967.3" font-size="29.8" stroke-width="0.35" fill="#1e1e1e" stroke="#1e1e1e">r=0.585</text>
<text x="1932.72" y="1001.3" font-size="29.8" stroke-width="0.35" fill="#1e1e1e" stroke="#1e1e1e">mse=57.8</text>
<text transform="translate(1062.3,947.76) rotate(-90)" font-size="30.2" stroke-width="0.34" fill="#1e1e1e" stroke="#1e1e1e">Estimated</text>
<text transform="translate(1095.8,984.76) rotate(-90)" font-size="30.2" stroke-width="0.34" fill="#1e1e1e" stroke="#1e1e1e">Log-fold change</text>
<text style="stroke-width:1.1px" x="60.32" y="44" font-size="43" stroke-width="0.02" fill="#000" stroke="#000">a</text>
<text style="stroke-width:1.1px" x="606.23" y="43.8" font-size="43" stroke-width="0.02" fill="#000" stroke="#000">b</text>
<text style="stroke-width:1.1px" x="1168.95" y="44" font-size="43" stroke-width="0.02" fill="#000" stroke="#000">c</text>
<text style="stroke-width:1.1px" x="1750.65" y="43.8" font-size="43" stroke-width="0.02" fill="#000" stroke="#000">d</text>
<text style="stroke-width:1.1px" x="105.95" y="569.4" font-size="43" stroke-width="0.02" fill="#000" stroke="#000">e</text>
<text style="stroke-width:1.1px" x="591.54" y="572.4" font-size="43" stroke-width="0.02" fill="#000" stroke="#000">f</text>
<text style="stroke-width:1.1px" x="1125.45" y="602" font-size="43" stroke-width="0.02" fill="#000" stroke="#000">g</text>
<text style="stroke-width:1.1px" x="1645.33" y="583.8" font-size="43" stroke-width="0.02" fill="#000" stroke="#000">h</text></svg>
</body></html>
